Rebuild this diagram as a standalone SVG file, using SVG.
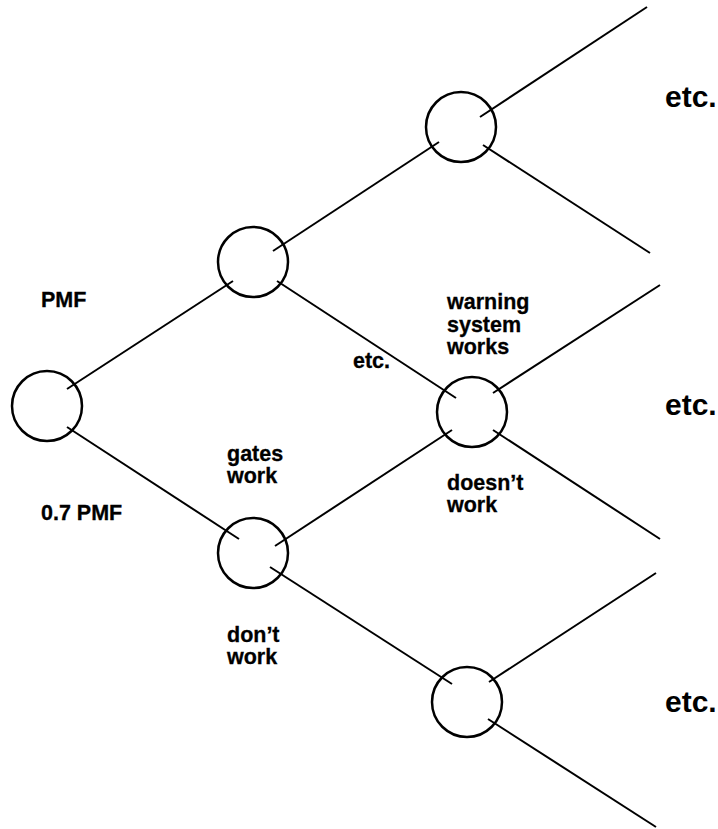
<svg xmlns="http://www.w3.org/2000/svg" width="718" height="829" viewBox="0 0 718 829">
<style>
.node{fill:none;stroke:#000;stroke-width:2.5}
.edge{stroke:#000;stroke-width:2;fill:none;stroke-linecap:butt}
.lbl{font-family:"Liberation Sans",Arial,sans-serif;font-weight:bold;font-size:21.5px;fill:#000;stroke:#000;stroke-width:0.3}
.etc{font-family:"Liberation Sans",Arial,sans-serif;font-weight:bold;font-size:30px;fill:#000}
</style>
<rect width="718" height="829" fill="#fff"/>
<g id="connectors">
<line class="edge" x1="67" y1="389" x2="233" y2="281"/>
<line class="edge" x1="67" y1="427" x2="239" y2="539"/>
<line class="edge" x1="273" y1="251" x2="439" y2="142"/>
<line class="edge" x1="277" y1="281" x2="456" y2="398"/>
<line class="edge" x1="275" y1="546" x2="452" y2="430"/>
<line class="edge" x1="270" y1="567" x2="452" y2="684"/>
<line class="edge" x1="480" y1="117" x2="647" y2="7"/>
<line class="edge" x1="483" y1="145" x2="650" y2="253"/>
<line class="edge" x1="493" y1="393" x2="660" y2="285"/>
<line class="edge" x1="493" y1="430" x2="660" y2="539"/>
<line class="edge" x1="489" y1="682" x2="656" y2="573"/>
<line class="edge" x1="488" y1="719" x2="656" y2="827"/>
</g>
<g id="root"><circle class="node" cx="47" cy="406" r="35"/></g>
<g id="n_gates_ok"><circle class="node" cx="253" cy="262" r="35"/></g>
<g id="n_gates_fail"><circle class="node" cx="253" cy="553" r="35"/></g>
<g id="n_top"><circle class="node" cx="461" cy="127" r="35"/></g>
<g id="n_mid"><circle class="node" cx="472" cy="412" r="35"/></g>
<g id="n_bot"><circle class="node" cx="467" cy="702" r="35"/></g>
<g id="labels">
<text class="lbl" x="41" y="307">PMF</text>
<text class="lbl" x="41" y="520">0.7 PMF</text>
<text class="lbl" x="447" y="309">warning</text>
<text class="lbl" x="447" y="332">system</text>
<text class="lbl" x="447" y="354">works</text>
<text class="lbl" x="353" y="368">etc.</text>
<text class="lbl" x="447" y="490">doesn’t</text>
<text class="lbl" x="447" y="512">work</text>
<text class="lbl" x="227" y="461">gates</text>
<text class="lbl" x="227" y="483">work</text>
<text class="lbl" x="227" y="642">don’t</text>
<text class="lbl" x="227" y="664">work</text>
<text class="etc" x="665" y="107">etc.</text>
<text class="etc" x="665" y="415">etc.</text>
<text class="etc" x="665" y="712">etc.</text>
</g>
</svg>
